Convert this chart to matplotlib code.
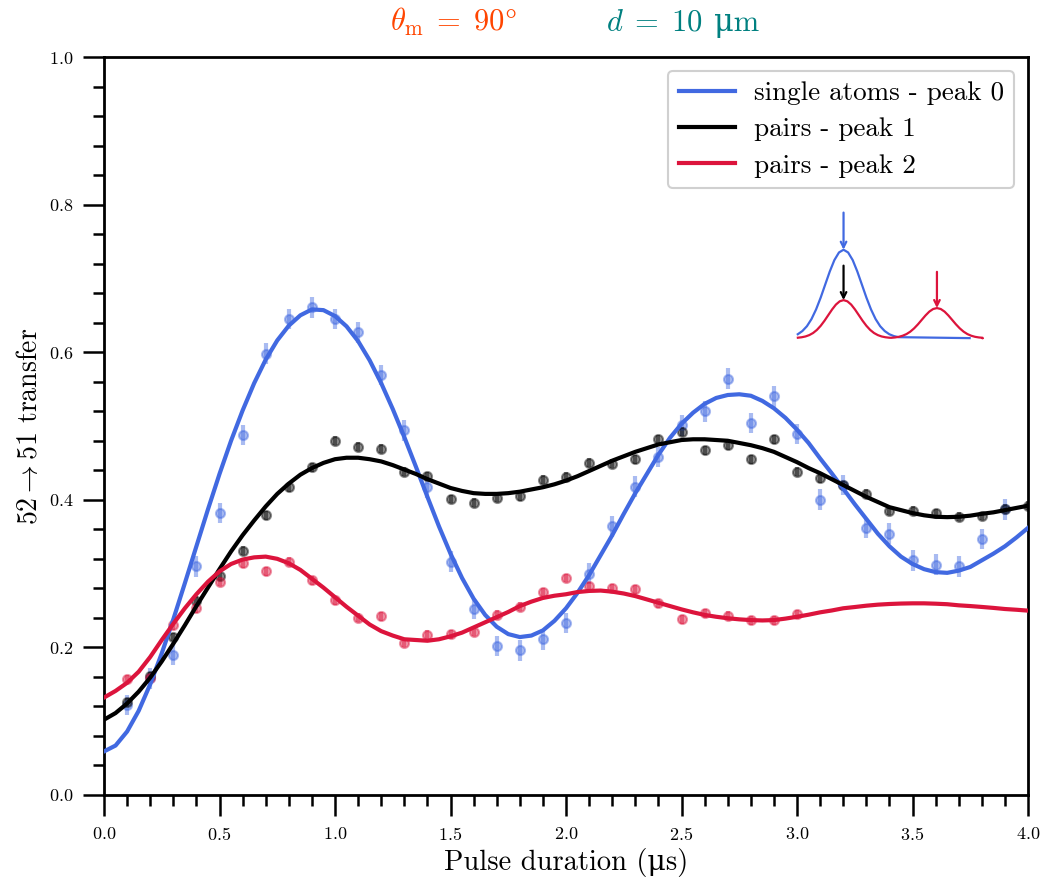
import numpy as np
import matplotlib
matplotlib.use("Agg")
import matplotlib.pyplot as plt

plt.rcParams['font.family'] = ['cmr10', 'DejaVu Serif']
plt.rcParams['mathtext.fontset'] = 'cm'
plt.rcParams['axes.formatter.use_mathtext'] = True
plt.rcParams['axes.unicode_minus'] = False

# measured points (every 0.1 us)
t_single = np.round(np.arange(1, 40) * 0.1, 2)
p_single = [0.122, 0.158, 0.190, 0.310, 0.382, 0.488, 0.598, 0.645, 0.661, 0.645,
            0.627, 0.569, 0.494, 0.417, 0.316, 0.252, 0.202, 0.196, 0.211, 0.233,
            0.300, 0.364, 0.418, 0.458, 0.501, 0.520, 0.564, 0.504, 0.540, 0.489,
            0.400, 0.420, 0.362, 0.354, 0.318, 0.312, 0.310, 0.347, 0.387]
err_single = 0.014

t_peak1 = np.round(np.arange(1, 41) * 0.1, 2)
p_peak1 = [0.126, 0.161, 0.214, 0.263, 0.297, 0.331, 0.379, 0.417, 0.444, 0.480,
           0.472, 0.469, 0.438, 0.432, 0.401, 0.396, 0.403, 0.405, 0.427, 0.431,
           0.450, 0.449, 0.455, 0.482, 0.492, 0.467, 0.474, 0.455, 0.482, 0.438,
           0.429, 0.420, 0.408, 0.385, 0.385, 0.382, 0.377, 0.378, 0.388, 0.392]
err_peak1 = 0.006

t_peak2 = np.round(np.arange(1, 31) * 0.1, 2)
p_peak2 = [0.157, 0.158, 0.230, 0.253, 0.289, 0.314, 0.303, 0.316, 0.291, 0.264,
           0.240, 0.242, 0.206, 0.217, 0.218, 0.221, 0.244, 0.255, 0.275, 0.294,
           0.283, 0.280, 0.279, 0.260, 0.238, 0.246, 0.243, 0.237, 0.237, 0.245]
err_peak2 = 0.006

# fitted curves every 0.05 us
t_fit = np.round(np.arange(0, 81) * 0.05, 2)
fit_single = [0.059, 0.067, 0.086, 0.114, 0.150, 0.192, 0.238, 0.287, 0.337, 0.387,
              0.435, 0.480, 0.521, 0.558, 0.590, 0.616, 0.636, 0.650, 0.658, 0.657,
              0.649, 0.635, 0.615, 0.589, 0.558, 0.523, 0.485, 0.445, 0.404, 0.364,
              0.327, 0.294, 0.266, 0.244, 0.228, 0.218, 0.214, 0.216, 0.223, 0.236,
              0.253, 0.274, 0.298, 0.325, 0.352, 0.381, 0.409, 0.435, 0.461, 0.484,
              0.503, 0.518, 0.530, 0.538, 0.542, 0.543, 0.541, 0.534, 0.524, 0.511,
              0.495, 0.477, 0.456, 0.436, 0.415, 0.394, 0.374, 0.354, 0.337, 0.323,
              0.313, 0.306, 0.302, 0.301, 0.304, 0.309, 0.318, 0.327, 0.337, 0.349,
              0.362]
fit_peak1 = [0.102, 0.111, 0.124, 0.140, 0.159, 0.181, 0.205, 0.230, 0.256, 0.281,
             0.306, 0.330, 0.352, 0.372, 0.391, 0.408, 0.422, 0.434, 0.443, 0.450,
             0.455, 0.457, 0.457, 0.455, 0.452, 0.447, 0.441, 0.435, 0.428, 0.422,
             0.416, 0.412, 0.409, 0.408, 0.408, 0.409, 0.411, 0.414, 0.417, 0.421,
             0.426, 0.432, 0.439, 0.446, 0.453, 0.459, 0.465, 0.470, 0.475, 0.478,
             0.481, 0.482, 0.482, 0.481, 0.480, 0.477, 0.474, 0.470, 0.465, 0.458,
             0.451, 0.443, 0.436, 0.428, 0.420, 0.412, 0.404, 0.397, 0.390, 0.386,
             0.382, 0.379, 0.377, 0.3765, 0.377, 0.3785, 0.381, 0.383, 0.386, 0.389,
             0.392]
fit_peak2 = [0.132, 0.141, 0.152, 0.167, 0.187, 0.210, 0.232, 0.253, 0.272, 0.289,
             0.303, 0.313, 0.319, 0.322, 0.323, 0.320, 0.314, 0.305, 0.293, 0.281,
             0.268, 0.255, 0.243, 0.231, 0.222, 0.216, 0.211, 0.210, 0.209, 0.211,
             0.215, 0.220, 0.227, 0.234, 0.241, 0.248, 0.256, 0.262, 0.267, 0.270,
             0.272, 0.275, 0.2765, 0.277, 0.2755, 0.273, 0.2695, 0.265, 0.2605, 0.256,
             0.2515, 0.2475, 0.244, 0.2415, 0.2395, 0.238, 0.237, 0.2365, 0.237, 0.239,
             0.2415, 0.2443, 0.2475, 0.250, 0.253, 0.2547, 0.2565, 0.2579, 0.2588, 0.2594,
             0.2597, 0.2597, 0.2592, 0.2585, 0.257, 0.256, 0.2548, 0.2535, 0.252, 0.251,
             0.2498]

labels = ["single atoms - peak 0", "pairs - peak 1", "pairs - peak 2"]
colors = ["royalblue", "black", "crimson"]

# inset sketch: gaussian profile (unit height) at offsets of 0.25 sigma
prof_off = np.arange(-12, 13) * 0.25
prof = [0.011, 0.023, 0.044, 0.080, 0.135, 0.216, 0.325, 0.458, 0.607, 0.755,
        0.883, 0.969, 1.0, 0.969, 0.883, 0.755, 0.607, 0.458, 0.325, 0.216,
        0.135, 0.080, 0.044, 0.023, 0.011]
sk_centers = [0.0, 0.0, 1.0]
sk_heights = [1.0, 0.43, 0.34]
sk_sigmas = [0.196, 0.163, 0.163]

fig = plt.figure(figsize=(10.4, 8.84), dpi=100)
ax = fig.add_axes([0.1, 0.1007, 0.8885, 0.8348])

for t, p, e, c in [(t_single, p_single, err_single, colors[0]),
                   (t_peak1, p_peak1, err_peak1, colors[1]),
                   (t_peak2, p_peak2, err_peak2, colors[2])]:
    ax.errorbar(t, p, yerr=e, fmt='o', color=c, alpha=0.45, ms=6.5, mew=1.5,
                elinewidth=3, capsize=0, zorder=2)

for f, c, lab in zip([fit_single, fit_peak1, fit_peak2], colors, labels):
    ax.plot(t_fit, f, color=c, lw=3, label=lab, zorder=3)

ax.set_xlim(0, 4.0)
ax.set_ylim(0, 1.0)
ax.set_xticks(np.arange(0, 4.01, 0.5))
ax.set_xticks(np.arange(0, 4.01, 0.1), minor=True)
ax.set_yticks(np.arange(0, 1.01, 0.2))
ax.set_yticks(np.arange(0, 1.01, 0.04), minor=True)
ax.tick_params(which='major', direction='out', length=15, width=1.8, labelsize=13, pad=7)
ax.tick_params(which='minor', direction='out', length=8, width=1.8)
for s in ax.spines.values():
    s.set_linewidth(2)

ax.set_xlabel("Pulse duration (μs)", fontsize=20.5)
ax.set_ylabel(r"$52 \rightarrow 51$ transfer", fontsize=20)

leg = ax.legend(loc='upper right', fontsize=19.5, handlelength=2.1, handletextpad=0.67,
                labelspacing=0.45, fancybox=True, framealpha=1, borderaxespad=0.5)
leg.get_frame().set_edgecolor('#d0d0d0')
leg.get_frame().set_linewidth(1.5)

fig.text(0.436, 0.965, r"$\theta_\mathrm{m}\;=\;90\degree$", color='orangered',
         fontsize=22, ha='center', va='baseline')
fig.text(0.676, 0.965, r"$d\;=\;10$", color='teal',
         fontsize=22, ha='right', va='baseline')
fig.text(0.687, 0.965, "μm", color='teal', fontsize=22, ha='left', va='baseline')

# inset sketch of the spectrum
ins = fig.add_axes([0.7644, 0.6125, 0.185, 0.155])
ins.set_xlim(-0.52, 1.54)
ins.set_ylim(-0.05, 1.5)
ins.axis('off')
# red: two pair peaks on a flat baseline
rx = np.concatenate([sk_centers[1] + sk_sigmas[1] * prof_off,
                     sk_centers[2] + sk_sigmas[2] * prof_off, [1.49]])
ry = np.concatenate([sk_heights[1] * np.array(prof),
                     sk_heights[2] * np.array(prof), [0.0]])
ins.plot(rx, ry, color=colors[2], lw=1.6, zorder=2)
bx = sk_centers[0] + sk_sigmas[0] * prof_off
keep = bx >= -0.5
bx = np.concatenate([bx[keep], [1.35]])
by = np.concatenate([sk_heights[0] * np.array(prof)[keep], [0.0]])
ins.plot(bx, by, color=colors[0], lw=1.6, zorder=1)
for xc, h, top, c in [(0.0, 1.0, 1.42, colors[0]), (0.0, 0.43, 0.82, colors[1]),
                      (1.0, 0.34, 0.75, colors[2])]:
    ins.annotate("", xy=(xc, h), xytext=(xc, top),
                 arrowprops=dict(arrowstyle='->', color=c, lw=1.6, shrinkA=0, shrinkB=0))

fig.savefig("out.png", dpi=100)
